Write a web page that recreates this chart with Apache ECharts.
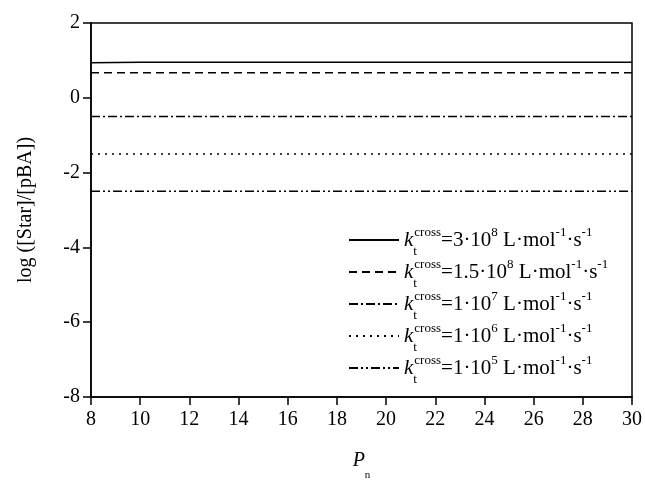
<!DOCTYPE html>
<html>
<head>
<meta charset="utf-8">
<script src="https://cdn.jsdelivr.net/npm/echarts@6/dist/echarts.min.js"></script>
<style>
  html, body { margin: 0; padding: 0; background: #fff; }
  #chart { width: 645px; height: 486px; }
</style>
</head>
<body>
<div id="chart"></div>
<script>
// chain length P_n on the x axis
const pn = [8, 10, 12, 14, 16, 18, 20, 22, 24, 26, 28, 30];

// log([Star]/[pBA]) for each k_t^cross
const k3e8   = [0.94, 0.95, 0.95, 0.95, 0.95, 0.95, 0.95, 0.95, 0.95, 0.95, 0.95, 0.95];
const k15e8  = [0.67, 0.67, 0.67, 0.67, 0.67, 0.67, 0.67, 0.67, 0.67, 0.67, 0.67, 0.67];
const k1e7   = [-0.5, -0.5, -0.5, -0.5, -0.5, -0.5, -0.5, -0.5, -0.5, -0.5, -0.5, -0.5];
const k1e6   = [-1.5, -1.5, -1.5, -1.5, -1.5, -1.5, -1.5, -1.5, -1.5, -1.5, -1.5, -1.5];
const k1e5   = [-2.5, -2.5, -2.5, -2.5, -2.5, -2.5, -2.5, -2.5, -2.5, -2.5, -2.5, -2.5];

// legend: mantissa and exponent of k_t^cross
const seriesNames = ["k3e8", "k1.5e8", "k1e7", "k1e6", "k1e5"];
const mantissas = ["3", "1.5", "1", "1", "1"];
const exponents = ["8", "8", "7", "6", "5"];

const dashTypes = ["solid", [8, 5], [9, 3, 2, 3], [2, 5], [9, 3, 2, 3, 2, 3]];
const seriesData = [k3e8, k15e8, k1e7, k1e6, k1e5];

const chart = echarts.init(document.getElementById("chart"));

const serif = "Liberation Serif";

const series = seriesNames.map((name, i) => ({
  name: name,
  type: "line",
  data: pn.map((x, j) => [x, seriesData[i][j]]),
  showSymbol: false,
  symbol: "none",
  silent: true,
  lineStyle: { color: "#000", width: 1.5, type: dashTypes[i] },
  itemStyle: { color: "#000" },
}));

const option = {
  animation: false,
  backgroundColor: "#fff",
  grid: {
    left: 91,
    right: 13,
    top: 23,
    bottom: 74,
    show: true,
    borderColor: "#000",
    borderWidth: 1.5,
  },
  xAxis: {
    type: "value",
    min: 8,
    max: 30,
    interval: 2,
    name: "{p|P}{n|n}",
    nameLocation: "middle",
    nameGap: 52,
    nameTextStyle: {
      rich: {
        p: { fontFamily: serif, fontStyle: "italic", fontSize: 20, color: "#000", lineHeight: 24 },
        n: { fontFamily: serif, fontSize: 11, color: "#000", lineHeight: 24, verticalAlign: "bottom", padding: [0, 0, -8, 0] },
      },
    },
    axisLine: { onZero: false, lineStyle: { color: "#000", width: 1.5 } },
    axisTick: { inside: false, length: 8, lineStyle: { color: "#000", width: 1.5 } },
    axisLabel: { fontFamily: serif, fontSize: 20, color: "#000", margin: 13 },
    splitLine: { show: false },
  },
  yAxis: {
    type: "value",
    min: -8,
    max: 2,
    interval: 2,
    name: "log ([Star]/[pBA])",
    nameLocation: "middle",
    nameRotate: 90,
    nameGap: 55,
    nameTextStyle: { fontFamily: serif, fontSize: 20, color: "#000" },
    axisLine: { onZero: false, lineStyle: { color: "#000", width: 1.5 } },
    axisTick: { inside: false, length: 8, lineStyle: { color: "#000", width: 1.5 } },
    axisLabel: { fontFamily: serif, fontSize: 20, color: "#000", margin: 11 },
    splitLine: { show: false },
  },
  legend: {
    show: true,
    orient: "vertical",
    left: 348,
    top: 226,
    padding: 0,
    itemWidth: 50,
    itemHeight: 12,
    itemGap: 0,
    selectedMode: false,
    itemStyle: { opacity: 0 },
    data: seriesNames,
    formatter: (name) => {
      const i = seriesNames.indexOf(name);
      return "{k|k}{t|t}{c|cross}{n|=" + mantissas[i] + "·10}{e|" + exponents[i] +
        "}{n| L·mol}{e|-1}{n|·s}{e|-1}";
    },
    textStyle: {
      color: "#000",
      fontFamily: serif,
      rich: {
        k: { fontFamily: serif, fontStyle: "italic", fontSize: 21, lineHeight: 28, color: "#000" },
        t: { fontFamily: serif, fontSize: 13, lineHeight: 28, width: 1, color: "#000", verticalAlign: "bottom", padding: [0, 0, -4, 0] },
        c: { fontFamily: serif, fontSize: 13, lineHeight: 28, color: "#000", verticalAlign: "top", padding: [0, 0, 0, 0] },
        n: { fontFamily: serif, fontSize: 21, lineHeight: 28, color: "#000" },
        e: { fontFamily: serif, fontSize: 13, lineHeight: 28, color: "#000", verticalAlign: "top", padding: [0, 0, 0, 0] },
      },
    },
  },
  series: series,
};

option && chart.setOption(option);

window.addEventListener("resize", () => {
  chart.resize();
});
</script>
</body>
</html>
